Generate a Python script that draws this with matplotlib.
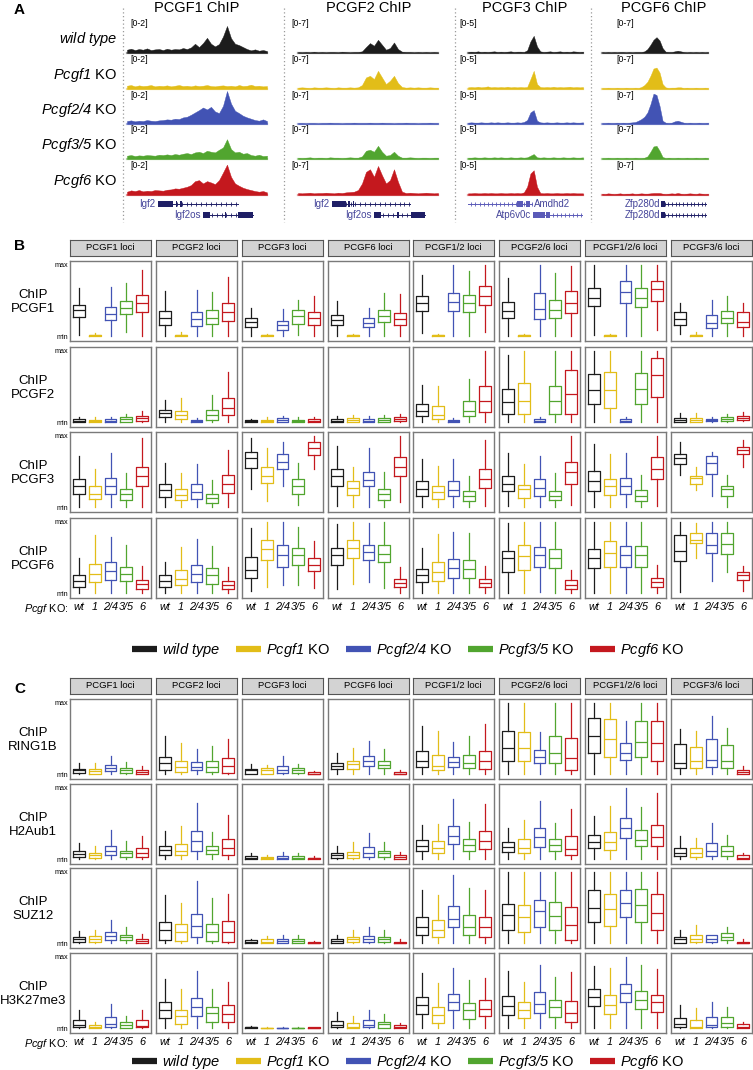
import numpy as np
import matplotlib
matplotlib.use('Agg')
import matplotlib.pyplot as plt
from matplotlib.lines import Line2D

plt.rcParams['font.family'] = ['Liberation Sans', 'DejaVu Sans']
# italic gene names: everything inside $\mathrm{...}$ is drawn with the italic face
plt.rcParams['mathtext.fontset'] = 'custom'
plt.rcParams['mathtext.rm'] = 'Liberation Sans:italic'
plt.rcParams['mathtext.it'] = 'Liberation Sans:italic'

W, H = 753, 1070

# genotypes
GENO_LABELS = [r'$\mathrm{wild\ type}$', r'$\mathrm{Pcgf1}$ KO', r'$\mathrm{Pcgf2/4}$ KO',
               r'$\mathrm{Pcgf3/5}$ KO', r'$\mathrm{Pcgf6}$ KO']
GENO_TICKS = ['wt', '1', '2/4', '3/5', '6']
COLORS = ['#1c1c1c', '#e2bd18', '#4253b4', '#51a52f', '#c4181e']

# ---------------- panel A : ChIP-seq tracks (signal, 0-1 of track scale) ----------------
TRACK_TITLES = ['PCGF1 ChIP', 'PCGF2 ChIP', 'PCGF3 ChIP', 'PCGF6 ChIP']
TRACK_RANGES = ['[0-2]', '[0-7]', '[0-5]', '[0-7]']

PCGF1_TRACKS = [
    [0.10, 0.13, 0.09, 0.12, 0.10, 0.14, 0.09, 0.11, 0.12, 0.09, 0.13, 0.10, 0.12, 0.11, 0.15, 0.12, 0.17, 0.28,
     0.18, 0.30, 0.46, 0.28, 0.20, 0.27, 0.50, 0.82, 0.45, 0.28, 0.24, 0.18, 0.12, 0.08, 0.11, 0.07, 0.09, 0.06],
    [0.10, 0.12, 0.08, 0.11, 0.09, 0.10, 0.12, 0.08, 0.10, 0.09, 0.11, 0.08, 0.10, 0.12, 0.09, 0.10, 0.08, 0.11,
     0.09, 0.10, 0.12, 0.09, 0.08, 0.10, 0.11, 0.09, 0.10, 0.08, 0.12, 0.09, 0.10, 0.13, 0.09, 0.10, 0.08, 0.09],
    [0.09, 0.11, 0.08, 0.10, 0.09, 0.12, 0.10, 0.09, 0.11, 0.12, 0.14, 0.13, 0.16, 0.15, 0.20, 0.22, 0.28, 0.35,
     0.42, 0.50, 0.44, 0.52, 0.38, 0.33, 0.55, 1.00, 0.62, 0.40, 0.33, 0.25, 0.20, 0.16, 0.12, 0.10, 0.14, 0.09],
    [0.10, 0.12, 0.09, 0.11, 0.10, 0.12, 0.11, 0.10, 0.13, 0.12, 0.14, 0.12, 0.15, 0.13, 0.16, 0.18, 0.15, 0.20,
     0.22, 0.18, 0.25, 0.22, 0.20, 0.28, 0.35, 0.60, 0.30, 0.20, 0.22, 0.16, 0.18, 0.12, 0.10, 0.13, 0.09, 0.10],
    [0.10, 0.14, 0.12, 0.15, 0.11, 0.13, 0.12, 0.15, 0.14, 0.13, 0.16, 0.17, 0.20, 0.19, 0.22, 0.25, 0.30, 0.42,
     0.45, 0.35, 0.42, 0.38, 0.33, 0.45, 0.68, 0.92, 0.55, 0.35, 0.28, 0.22, 0.18, 0.15, 0.12, 0.10, 0.12, 0.08],
]
PCGF2_TRACKS = [
    [0.03, 0.02, 0.03, 0.02, 0.04, 0.02, 0.03, 0.02, 0.03, 0.03, 0.02, 0.04, 0.03, 0.02, 0.03, 0.03, 0.05, 0.18,
     0.30, 0.22, 0.40, 0.25, 0.10, 0.15, 0.32, 0.12, 0.04, 0.03, 0.03, 0.02, 0.03, 0.02, 0.03, 0.02, 0.03, 0.02],
    [0.04, 0.05, 0.04, 0.03, 0.05, 0.04, 0.04, 0.05, 0.04, 0.03, 0.05, 0.04, 0.04, 0.05, 0.04, 0.05, 0.12, 0.35,
     0.40, 0.30, 0.55, 0.35, 0.15, 0.25, 0.40, 0.18, 0.06, 0.04, 0.05, 0.04, 0.05, 0.04, 0.04, 0.05, 0.04, 0.04],
    [0.03, 0.03, 0.02, 0.03, 0.03, 0.02, 0.03, 0.03, 0.04, 0.03, 0.03, 0.02, 0.03, 0.03, 0.04, 0.03, 0.03, 0.03,
     0.04, 0.03, 0.03, 0.04, 0.03, 0.03, 0.02, 0.03, 0.03, 0.04, 0.03, 0.03, 0.02, 0.03, 0.03, 0.04, 0.03, 0.03],
    [0.04, 0.03, 0.04, 0.05, 0.03, 0.04, 0.04, 0.03, 0.05, 0.04, 0.04, 0.03, 0.04, 0.05, 0.04, 0.04, 0.08, 0.25,
     0.28, 0.22, 0.40, 0.22, 0.10, 0.12, 0.22, 0.10, 0.04, 0.04, 0.05, 0.04, 0.03, 0.04, 0.04, 0.03, 0.04, 0.04],
    [0.06, 0.05, 0.06, 0.07, 0.05, 0.06, 0.06, 0.07, 0.06, 0.05, 0.07, 0.06, 0.08, 0.09, 0.10, 0.15, 0.35, 0.70,
     0.78, 0.55, 0.88, 0.60, 0.35, 0.45, 0.78, 0.40, 0.10, 0.06, 0.07, 0.06, 0.05, 0.06, 0.07, 0.06, 0.05, 0.06],
]
PCGF3_TRACKS = [
    [0.03, 0.04, 0.03, 0.05, 0.03, 0.04, 0.03, 0.04, 0.05, 0.03, 0.04, 0.03, 0.04, 0.05, 0.03, 0.04, 0.04, 0.03,
     0.08, 0.35, 0.52, 0.20, 0.05, 0.03, 0.04, 0.05, 0.03, 0.04, 0.05, 0.03, 0.04, 0.03, 0.05, 0.04, 0.03, 0.04],
    [0.05, 0.06, 0.05, 0.07, 0.05, 0.06, 0.08, 0.05, 0.06, 0.05, 0.06, 0.05, 0.07, 0.05, 0.06, 0.05, 0.06, 0.05,
     0.06, 0.30, 0.55, 0.15, 0.06, 0.05, 0.06, 0.05, 0.07, 0.05, 0.06, 0.05, 0.06, 0.07, 0.05, 0.06, 0.05, 0.06],
    [0.04, 0.05, 0.04, 0.04, 0.05, 0.04, 0.04, 0.05, 0.04, 0.05, 0.04, 0.04, 0.05, 0.04, 0.04, 0.05, 0.04, 0.06,
     0.12, 0.35, 0.42, 0.10, 0.05, 0.04, 0.05, 0.04, 0.04, 0.05, 0.04, 0.04, 0.05, 0.04, 0.05, 0.04, 0.04, 0.05],
    [0.04, 0.04, 0.05, 0.04, 0.04, 0.05, 0.04, 0.04, 0.05, 0.04, 0.05, 0.04, 0.04, 0.05, 0.04, 0.04, 0.05, 0.04,
     0.05, 0.10, 0.15, 0.05, 0.04, 0.05, 0.04, 0.04, 0.05, 0.04, 0.04, 0.05, 0.04, 0.04, 0.05, 0.04, 0.04, 0.05],
    [0.05, 0.05, 0.06, 0.05, 0.05, 0.06, 0.05, 0.06, 0.05, 0.05, 0.06, 0.05, 0.05, 0.06, 0.05, 0.06, 0.05, 0.08,
     0.25, 0.65, 0.75, 0.25, 0.06, 0.05, 0.06, 0.05, 0.05, 0.06, 0.05, 0.05, 0.06, 0.05, 0.06, 0.05, 0.05, 0.05],
]
PCGF6_TRACKS = [
    [0.03, 0.02, 0.03, 0.02, 0.03, 0.02, 0.03, 0.03, 0.02, 0.03, 0.02, 0.03, 0.03, 0.03, 0.05, 0.12, 0.25, 0.40,
     0.48, 0.38, 0.15, 0.04, 0.03, 0.03, 0.05, 0.07, 0.05, 0.03, 0.02, 0.03, 0.02, 0.03, 0.02, 0.03, 0.02, 0.03],
    [0.03, 0.03, 0.04, 0.03, 0.03, 0.04, 0.03, 0.03, 0.04, 0.03, 0.03, 0.04, 0.03, 0.06, 0.12, 0.22, 0.40, 0.62,
     0.65, 0.50, 0.15, 0.05, 0.03, 0.04, 0.04, 0.05, 0.05, 0.03, 0.04, 0.03, 0.03, 0.04, 0.03, 0.03, 0.04, 0.03],
    [0.03, 0.03, 0.04, 0.03, 0.03, 0.04, 0.03, 0.04, 0.03, 0.04, 0.05, 0.06, 0.10, 0.15, 0.22, 0.35, 0.60, 0.92,
     0.88, 0.55, 0.10, 0.04, 0.03, 0.04, 0.08, 0.10, 0.07, 0.04, 0.03, 0.04, 0.03, 0.03, 0.04, 0.03, 0.03, 0.04],
    [0.03, 0.03, 0.04, 0.03, 0.03, 0.04, 0.03, 0.03, 0.04, 0.03, 0.03, 0.04, 0.03, 0.03, 0.04, 0.08, 0.22, 0.38,
     0.40, 0.25, 0.06, 0.03, 0.04, 0.03, 0.03, 0.04, 0.03, 0.03, 0.04, 0.03, 0.03, 0.04, 0.03, 0.03, 0.04, 0.03],
    [0.04, 0.03, 0.05, 0.04, 0.03, 0.04, 0.05, 0.03, 0.04, 0.04, 0.05, 0.03, 0.04, 0.05, 0.04, 0.04, 0.05, 0.06,
     0.06, 0.06, 0.04, 0.03, 0.04, 0.05, 0.04, 0.06, 0.04, 0.03, 0.04, 0.05, 0.04, 0.03, 0.05, 0.04, 0.03, 0.04],
]
ALL_TRACKS = [PCGF1_TRACKS, PCGF2_TRACKS, PCGF3_TRACKS, PCGF6_TRACKS]

# gene models per column: (name, label side, start, end, exons, row)
GENES = [
    [('Igf2', 'left', 0.22, 0.79, [(0.22, 0.33), (0.35, 0.36), (0.38, 0.39)], 0),
     ('Igf2os', 'left', 0.54, 0.90, [(0.54, 0.59), (0.70, 0.71), (0.79, 0.90)], 1)],
    [('Igf2', 'left', 0.24, 0.80, [(0.24, 0.34), (0.36, 0.37), (0.39, 0.40)], 0),
     ('Igf2os', 'left', 0.54, 0.91, [(0.54, 0.59), (0.71, 0.72), (0.81, 0.91)], 1)],
    [('Amdhd2', 'right', 0.00, 0.56, [(0.43, 0.48), (0.50, 0.54)], 0),
     ('Atp6v0c', 'left', 0.565, 0.99, [(0.565, 0.67), (0.68, 0.71)], 1)],
    [('Zfp280d', 'left', 0.56, 0.98, [(0.56, 0.59)], 0),
     ('Zfp280d', 'left', 0.56, 0.98, [(0.56, 0.59)], 1)],
]
GENE_COLORS = ['#1f1f66', '#1f1f66', '#5b5bb8', '#1f1f66']

# ---------------- panels B and C : box stats (whislo, q1, med, q3, whishi), scaled min..max ----------------
LOCI = ['PCGF1 loci', 'PCGF2 loci', 'PCGF3 loci', 'PCGF6 loci',
        'PCGF1/2 loci', 'PCGF2/6 loci', 'PCGF1/2/6 loci', 'PCGF3/6 loci']

CHIP_PCGF1 = [
    [(0.02, 0.27, 0.36, 0.44, 0.68), (0, 0, 0.01, 0.02, 0.04), (0, 0.23, 0.31, 0.41, 0.69), (0.05, 0.31, 0.40, 0.50, 0.75), (0, 0.34, 0.46, 0.58, 0.93)],
    [(0, 0.16, 0.25, 0.35, 0.63), (0, 0, 0.01, 0.02, 0.06), (0, 0.14, 0.24, 0.34, 0.65), (0, 0.17, 0.26, 0.36, 0.62), (0, 0.21, 0.34, 0.46, 0.83)],
    [(0, 0.13, 0.20, 0.25, 0.40), (0, 0, 0.01, 0.02, 0.03), (0, 0.08, 0.15, 0.21, 0.38), (0.02, 0.17, 0.28, 0.36, 0.51), (0, 0.16, 0.26, 0.34, 0.56)],
    [(0, 0.16, 0.23, 0.30, 0.50), (0, 0, 0.01, 0.02, 0.03), (0, 0.13, 0.19, 0.25, 0.40), (0, 0.20, 0.28, 0.36, 0.60), (0, 0.15, 0.24, 0.33, 0.59)],
    [(0.04, 0.35, 0.46, 0.56, 0.86), (0, 0, 0.01, 0.02, 0.03), (0, 0.35, 0.48, 0.61, 1.0), (0, 0.34, 0.47, 0.58, 0.91), (0.06, 0.43, 0.57, 0.70, 1.0)],
    [(0, 0.25, 0.35, 0.48, 0.82), (0, 0, 0.01, 0.02, 0.03), (0, 0.24, 0.38, 0.60, 1.0), (0, 0.25, 0.37, 0.51, 0.89), (0, 0.33, 0.47, 0.63, 0.99)],
    [(0.02, 0.42, 0.54, 0.68, 1.0), (0, 0, 0.01, 0.02, 0.03), (0, 0.46, 0.62, 0.77, 1.0), (0, 0.41, 0.54, 0.67, 1.0), (0.08, 0.50, 0.66, 0.78, 1.0)],
    [(0.03, 0.16, 0.24, 0.34, 0.47), (0, 0, 0.01, 0.02, 0.05), (0, 0.11, 0.19, 0.30, 0.51), (0, 0.18, 0.26, 0.35, 0.57), (0, 0.13, 0.20, 0.34, 0.47)],
]
CHIP_PCGF2 = [
    [(0, 0, 0.015, 0.04, 0.07), (0, 0, 0.015, 0.035, 0.07), (0, 0, 0.02, 0.04, 0.075), (0, 0.005, 0.04, 0.07, 0.12), (0, 0.015, 0.05, 0.08, 0.16)],
    [(0, 0.07, 0.13, 0.17, 0.31), (0, 0.04, 0.10, 0.16, 0.34), (0, 0, 0.01, 0.03, 0.06), (0, 0.03, 0.10, 0.17, 0.38), (0, 0.10, 0.20, 0.34, 0.70)],
    [(0, 0, 0.015, 0.025, 0.04), (0, 0, 0.02, 0.035, 0.07), (0, 0.005, 0.03, 0.05, 0.09), (0, 0, 0.02, 0.03, 0.065), (0, 0, 0.02, 0.04, 0.07)],
    [(0, 0, 0.02, 0.04, 0.085), (0, 0, 0.03, 0.05, 0.10), (0, 0, 0.02, 0.04, 0.085), (0, 0.005, 0.03, 0.05, 0.105), (0, 0.01, 0.04, 0.07, 0.12)],
    [(0, 0.09, 0.15, 0.26, 0.52), (0, 0.04, 0.10, 0.23, 0.51), (0, 0, 0.01, 0.035, 0.06), (0, 0.08, 0.16, 0.29, 0.61), (0, 0.14, 0.29, 0.51, 1.0)],
    [(0, 0.12, 0.28, 0.46, 0.95), (0, 0.12, 0.29, 0.55, 1.0), (0, 0, 0.015, 0.04, 0.075), (0, 0.12, 0.29, 0.51, 1.0), (0, 0.12, 0.39, 0.73, 1.0)],
    [(0, 0.25, 0.45, 0.68, 1.0), (0, 0.20, 0.45, 0.71, 1.0), (0, 0, 0.015, 0.04, 0.075), (0, 0.25, 0.47, 0.69, 1.0), (0, 0.35, 0.66, 0.90, 1.0)],
    [(0, 0, 0.03, 0.06, 0.13), (0, 0, 0.03, 0.06, 0.13), (0.005, 0.02, 0.03, 0.045, 0.07), (0, 0.01, 0.04, 0.07, 0.12), (0.01, 0.03, 0.06, 0.09, 0.14)],
]
CHIP_PCGF3 = [
    [(0, 0.18, 0.29, 0.40, 0.72), (0, 0.11, 0.19, 0.29, 0.54), (0, 0.18, 0.29, 0.41, 0.76), (0, 0.10, 0.18, 0.25, 0.48), (0, 0.29, 0.43, 0.57, 0.97)],
    [(0, 0.14, 0.24, 0.33, 0.62), (0, 0.10, 0.17, 0.25, 0.48), (0, 0.12, 0.21, 0.32, 0.61), (0, 0.06, 0.13, 0.19, 0.38), (0, 0.20, 0.32, 0.45, 0.80)],
    [(0.25, 0.55, 0.69, 0.77, 0.97), (0.09, 0.34, 0.44, 0.56, 0.83), (0.29, 0.54, 0.64, 0.75, 0.91), (0.03, 0.18, 0.29, 0.40, 0.62), (0.54, 0.73, 0.83, 0.92, 1.0)],
    [(0.01, 0.30, 0.43, 0.54, 0.86), (0, 0.17, 0.27, 0.36, 0.56), (0, 0.29, 0.38, 0.50, 0.83), (0, 0.10, 0.18, 0.26, 0.49), (0.07, 0.44, 0.57, 0.70, 1.0)],
    [(0, 0.16, 0.26, 0.37, 0.68), (0, 0.12, 0.21, 0.30, 0.58), (0, 0.15, 0.24, 0.36, 0.68), (0, 0.09, 0.15, 0.22, 0.43), (0.01, 0.27, 0.40, 0.54, 0.94)],
    [(0.01, 0.22, 0.33, 0.44, 0.76), (0, 0.13, 0.25, 0.31, 0.61), (0, 0.15, 0.27, 0.39, 0.72), (0, 0.10, 0.15, 0.22, 0.48), (0.03, 0.33, 0.49, 0.63, 1.0)],
    [(0, 0.23, 0.37, 0.51, 0.89), (0, 0.17, 0.29, 0.40, 0.75), (0, 0.18, 0.30, 0.41, 0.76), (0, 0.09, 0.16, 0.24, 0.45), (0.01, 0.39, 0.54, 0.70, 1.0)],
    [(0.45, 0.61, 0.69, 0.75, 0.91), (0.24, 0.32, 0.41, 0.44, 0.57), (0.15, 0.46, 0.62, 0.72, 0.78), (0, 0.16, 0.26, 0.30, 0.45), (0.57, 0.75, 0.80, 0.85, 0.95)],
]
CHIP_PCGF6 = [
    [(0, 0.09, 0.17, 0.25, 0.50), (0, 0.15, 0.27, 0.41, 0.81), (0, 0.19, 0.31, 0.44, 0.79), (0, 0.17, 0.27, 0.37, 0.67), (0, 0.06, 0.13, 0.19, 0.38)],
    [(0, 0.09, 0.17, 0.26, 0.43), (0, 0.11, 0.20, 0.32, 0.65), (0, 0.15, 0.27, 0.39, 0.76), (0, 0.13, 0.25, 0.35, 0.66), (0, 0.05, 0.12, 0.17, 0.37)],
    [(0.03, 0.21, 0.33, 0.51, 0.92), (0.08, 0.47, 0.62, 0.74, 1.0), (0.12, 0.37, 0.53, 0.67, 1.0), (0.11, 0.40, 0.53, 0.63, 0.93), (0.07, 0.31, 0.40, 0.49, 0.73)],
    [(0.06, 0.40, 0.53, 0.64, 0.97), (0.13, 0.50, 0.64, 0.75, 1.0), (0.16, 0.46, 0.58, 0.68, 0.98), (0.07, 0.43, 0.55, 0.68, 1.0), (0, 0.08, 0.14, 0.20, 0.36)],
    [(0, 0.15, 0.25, 0.34, 0.63), (0, 0.17, 0.29, 0.44, 0.83), (0, 0.21, 0.35, 0.48, 0.86), (0, 0.21, 0.34, 0.47, 0.85), (0, 0.08, 0.14, 0.20, 0.38)],
    [(0, 0.30, 0.49, 0.59, 0.99), (0, 0.32, 0.52, 0.68, 1.0), (0.01, 0.37, 0.54, 0.65, 1.0), (0, 0.35, 0.50, 0.62, 1.0), (0, 0.06, 0.12, 0.18, 0.33)],
    [(0, 0.35, 0.49, 0.62, 1.0), (0, 0.37, 0.56, 0.73, 1.0), (0, 0.37, 0.53, 0.66, 1.0), (0, 0.37, 0.54, 0.66, 1.0), (0, 0.09, 0.15, 0.21, 0.40)],
    [(0.01, 0.45, 0.59, 0.81, 1.0), (0.50, 0.70, 0.75, 0.85, 0.98), (0.17, 0.56, 0.68, 0.85, 1.0), (0.29, 0.55, 0.69, 0.84, 1.0), (0.03, 0.19, 0.25, 0.30, 0.38)],
]
CHIP_RING1B = [
    [(0, 0.02, 0.05, 0.07, 0.16), (0, 0, 0.04, 0.07, 0.16), (0, 0.04, 0.09, 0.13, 0.26), (0, 0.02, 0.06, 0.09, 0.17), (0, 0, 0.03, 0.05, 0.11)],
    [(0, 0.05, 0.15, 0.24, 0.53), (0, 0.03, 0.10, 0.19, 0.43), (0, 0.05, 0.10, 0.17, 0.35), (0, 0.03, 0.10, 0.18, 0.39), (0, 0.02, 0.11, 0.22, 0.49)],
    [(0, 0, 0.05, 0.07, 0.14), (0, 0, 0.05, 0.08, 0.13), (0, 0.02, 0.06, 0.11, 0.25), (0, 0.01, 0.05, 0.09, 0.14), (0, 0, 0.005, 0.03, 0.04)],
    [(0, 0.07, 0.11, 0.16, 0.29), (0, 0.07, 0.14, 0.19, 0.36), (0, 0.11, 0.18, 0.25, 0.47), (0, 0.09, 0.13, 0.19, 0.35), (0, 0, 0.005, 0.03, 0.06)],
    [(0, 0.10, 0.19, 0.33, 0.67), (0, 0.05, 0.12, 0.27, 0.60), (0, 0.10, 0.17, 0.24, 0.45), (0, 0.08, 0.15, 0.27, 0.54), (0, 0.07, 0.18, 0.33, 0.70)],
    [(0, 0.19, 0.36, 0.60, 1.0), (0, 0.18, 0.36, 0.59, 1.0), (0, 0.16, 0.24, 0.34, 0.59), (0, 0.16, 0.29, 0.54, 1.0), (0, 0.05, 0.23, 0.51, 1.0)],
    [(0, 0.30, 0.54, 0.79, 1.0), (0, 0.24, 0.50, 0.78, 1.0), (0, 0.20, 0.30, 0.43, 0.75), (0, 0.24, 0.45, 0.74, 1.0), (0, 0.18, 0.44, 0.75, 1.0)],
    [(0, 0.08, 0.16, 0.42, 0.64), (0, 0.09, 0.19, 0.38, 0.61), (0, 0.10, 0.20, 0.49, 0.81), (0, 0.09, 0.18, 0.41, 0.65), (0, 0, 0.03, 0.06, 0.11)],
]
CHIP_H2AUB1 = [
    [(0, 0.03, 0.07, 0.11, 0.23), (0, 0.01, 0.05, 0.09, 0.19), (0, 0.05, 0.11, 0.19, 0.41), (0, 0.03, 0.08, 0.12, 0.25), (0, 0.03, 0.09, 0.15, 0.33)],
    [(0, 0.06, 0.13, 0.19, 0.40), (0, 0.06, 0.11, 0.21, 0.46), (0, 0.11, 0.25, 0.39, 0.79), (0, 0.07, 0.13, 0.19, 0.38), (0, 0.05, 0.15, 0.28, 0.62)],
    [(0, 0, 0.02, 0.04, 0.08), (0, 0, 0.02, 0.03, 0.06), (0, 0, 0.02, 0.04, 0.10), (0, 0, 0.02, 0.04, 0.08), (0, 0, 0.01, 0.02, 0.04)],
    [(0, 0.02, 0.06, 0.09, 0.19), (0, 0.02, 0.06, 0.10, 0.24), (0, 0.03, 0.09, 0.17, 0.36), (0, 0.03, 0.08, 0.12, 0.24), (0, 0, 0.03, 0.05, 0.10)],
    [(0, 0.12, 0.19, 0.27, 0.48), (0, 0.08, 0.16, 0.25, 0.50), (0, 0.21, 0.33, 0.46, 0.85), (0, 0.12, 0.20, 0.28, 0.52), (0, 0.14, 0.26, 0.40, 0.77)],
    [(0, 0.10, 0.17, 0.24, 0.43), (0, 0.09, 0.16, 0.28, 0.55), (0, 0.17, 0.31, 0.44, 0.81), (0, 0.12, 0.20, 0.28, 0.51), (0, 0.05, 0.14, 0.32, 0.70)],
    [(0, 0.16, 0.24, 0.34, 0.60), (0, 0.13, 0.24, 0.38, 0.74), (0, 0.30, 0.43, 0.58, 1.0), (0, 0.19, 0.27, 0.41, 0.73), (0, 0.18, 0.31, 0.48, 0.93)],
    [(0, 0.04, 0.09, 0.15, 0.32), (0, 0.03, 0.09, 0.15, 0.30), (0, 0.04, 0.11, 0.22, 0.51), (0, 0.04, 0.12, 0.18, 0.34), (0, 0, 0.02, 0.06, 0.09)],
]
CHIP_SUZ12 = [
    [(0, 0.01, 0.05, 0.08, 0.17), (0, 0.02, 0.06, 0.10, 0.19), (0, 0.04, 0.10, 0.16, 0.33), (0, 0.04, 0.08, 0.12, 0.23), (0, 0, 0.03, 0.06, 0.13)],
    [(0, 0.04, 0.19, 0.30, 0.67), (0, 0.03, 0.16, 0.27, 0.56), (0, 0.08, 0.24, 0.41, 0.88), (0, 0.03, 0.16, 0.27, 0.63), (0, 0.02, 0.15, 0.31, 0.69)],
    [(0, 0, 0.015, 0.04, 0.06), (0, 0, 0.02, 0.05, 0.10), (0, 0, 0.03, 0.05, 0.12), (0, 0, 0.03, 0.05, 0.11), (0, 0, 0.005, 0.01, 0.03)],
    [(0, 0, 0.03, 0.06, 0.12), (0, 0.01, 0.06, 0.09, 0.19), (0, 0.01, 0.06, 0.10, 0.23), (0, 0.02, 0.06, 0.09, 0.18), (0, 0, 0.005, 0.02, 0.06)],
    [(0, 0.12, 0.23, 0.37, 0.75), (0, 0.09, 0.18, 0.32, 0.67), (0, 0.22, 0.34, 0.52, 0.96), (0, 0.12, 0.23, 0.39, 0.77), (0, 0.09, 0.22, 0.36, 0.75)],
    [(0, 0.18, 0.39, 0.55, 1.0), (0, 0.16, 0.37, 0.53, 1.0), (0, 0.23, 0.45, 0.60, 1.0), (0, 0.18, 0.38, 0.58, 1.0), (0, 0.04, 0.25, 0.51, 1.0)],
    [(0, 0.29, 0.50, 0.74, 1.0), (0, 0.24, 0.48, 0.69, 1.0), (0, 0.36, 0.56, 0.75, 1.0), (0, 0.30, 0.53, 0.76, 1.0), (0, 0.19, 0.42, 0.69, 1.0)],
    [(0, 0, 0.05, 0.09, 0.19), (0, 0.01, 0.06, 0.11, 0.25), (0, 0.01, 0.05, 0.11, 0.12), (0, 0.04, 0.09, 0.14, 0.22), (0, 0, 0.005, 0.02, 0.05)],
]
CHIP_H3K27ME3 = [
    [(0, 0.01, 0.04, 0.11, 0.26), (0, 0, 0.02, 0.04, 0.08), (0, 0.01, 0.06, 0.15, 0.34), (0, 0, 0.04, 0.08, 0.17), (0, 0.01, 0.03, 0.11, 0.26)],
    [(0, 0.14, 0.26, 0.36, 0.69), (0, 0.05, 0.17, 0.26, 0.55), (0, 0.17, 0.30, 0.42, 0.80), (0, 0.09, 0.21, 0.29, 0.55), (0, 0.09, 0.20, 0.32, 0.65)],
    [(0, 0, 0.01, 0.015, 0.025), (0, 0, 0, 0.005, 0.01), (0, 0, 0, 0.005, 0.01), (0, 0, 0, 0.005, 0.01), (0, 0, 0.005, 0.01, 0.015)],
    [(0, 0.01, 0.04, 0.10, 0.23), (0, 0, 0.02, 0.07, 0.17), (0, 0.01, 0.04, 0.12, 0.26), (0, 0, 0.05, 0.09, 0.20), (0, 0, 0.01, 0.04, 0.07)],
    [(0, 0.20, 0.32, 0.43, 0.77), (0, 0.07, 0.18, 0.29, 0.63), (0, 0.25, 0.36, 0.48, 0.84), (0, 0.13, 0.26, 0.35, 0.68), (0, 0.17, 0.27, 0.39, 0.71)],
    [(0, 0.19, 0.31, 0.45, 0.80), (0, 0.14, 0.26, 0.36, 0.65), (0, 0.21, 0.34, 0.51, 0.89), (0, 0.15, 0.29, 0.39, 0.72), (0, 0.08, 0.21, 0.38, 0.79)],
    [(0, 0.31, 0.43, 0.55, 0.87), (0, 0.20, 0.33, 0.46, 0.85), (0, 0.36, 0.49, 0.62, 1.0), (0, 0.27, 0.39, 0.52, 0.89), (0, 0.22, 0.36, 0.47, 0.83)],
    [(0, 0.01, 0.06, 0.14, 0.32), (0, 0, 0.02, 0.12, 0.28), (0, 0.01, 0.04, 0.16, 0.37), (0, 0.01, 0.07, 0.15, 0.29), (0, 0, 0.02, 0.05, 0.08)],
]

PANEL_B = [('ChIP\nPCGF1', CHIP_PCGF1), ('ChIP\nPCGF2', CHIP_PCGF2),
           ('ChIP\nPCGF3', CHIP_PCGF3), ('ChIP\nPCGF6', CHIP_PCGF6)]
PANEL_C = [('ChIP\nRING1B', CHIP_RING1B), ('ChIP\nH2Aub1', CHIP_H2AUB1),
           ('ChIP\nSUZ12', CHIP_SUZ12), ('ChIP\nH3K27me3', CHIP_H3K27ME3)]

# ---------------- layout (pixels) ----------------
COL_X = [70, 156, 242, 328, 413, 499, 585, 671]
COL_W = 81
ROWS_B = [261, 347, 432, 518]
ROWS_C = [699, 784, 868, 953]
ROW_H = 80

fig = plt.figure(figsize=(W / 100, H / 100), dpi=100)


def add_ax(x0, y0, x1, y1):
    return fig.add_axes([x0 / W, 1 - y1 / H, (x1 - x0) / W, (y1 - y0) / H])


def ftext(x, y, s, **kw):
    return fig.text(x / W, 1 - y / H, s, **kw)


# ---------- panel A ----------
ftext(14, 10, 'A', fontsize=11, fontweight='bold', va='center', ha='left')
TRACK_COLS = [(127, 267), (298, 438), (468, 583), (602, 708)]
TITLE_X = [197, 369, 525, 664]
RANGE_X = [130, 291, 459, 616]
BASELINES = [53, 89, 124, 159, 195]
for x in [123, 284, 455, 591]:
    fig.add_artist(Line2D([x / W, x / W], [1 - 8 / H, 1 - 222 / H], color='#9a9a9a', lw=0.9,
                          ls=(0, (1, 2))))

for c, (x0, x1) in enumerate(TRACK_COLS):
    ftext(TITLE_X[c], 8, TRACK_TITLES[c], fontsize=10.5, ha='center', va='center')
    for r, base in enumerate(BASELINES):
        vals = ALL_TRACKS[c][r]
        ax = add_ax(x0, base - 33, x1, base)
        xs = np.linspace(0, 1, len(vals))
        ax.fill_between(xs, 0, vals, color=COLORS[r], lw=0.3)
        ax.axhline(0, color=COLORS[r], alpha=0.45, lw=1.6, clip_on=False)
        ax.set_xlim(0, 1)
        ax.set_ylim(0, 1)
        ax.axis('off')
        ftext(RANGE_X[c], base - 29, TRACK_RANGES[c], fontsize=6.3, ha='left', va='center')

    # gene models
    gax = add_ax(x0, 198, x1, 221)
    gax.set_xlim(0, 1)
    gax.set_ylim(1.6, -0.6)
    gax.axis('off')
    gcol = GENE_COLORS[c]
    for name, side, g0, g1, exons, row in GENES[c]:
        gax.plot([g0, g1], [row, row], color=gcol, lw=0.7)
        ticks = np.arange(g0 + 0.03, g1, 0.035)
        gax.plot(ticks, [row] * len(ticks), ls='none', marker='|', ms=2.5, mew=0.6, color=gcol)
        for e0, e1 in exons:
            gax.fill_between([e0, e1], row - 0.27, row + 0.27, color=gcol, lw=0)
        if side == 'left':
            gax.text(g0 - 0.015, row, name, ha='right', va='center', fontsize=7, color='#45459a')
        else:
            gax.text(g1 + 0.015, row, name, ha='left', va='center', fontsize=7, color='#45459a')

ROWLAB_Y = [39, 75, 110, 145, 181]
for r, lab in enumerate(GENO_LABELS):
    ftext(117, ROWLAB_Y[r], lab, fontsize=10.5, ha='right', va='center')


# ---------- panels B and C ----------
def draw_boxgrid(row_tops, panel_rows, strip_y, letter_y, letter, legend_y):
    ftext(14, letter_y, letter, fontsize=11, fontweight='bold', va='center', ha='left')
    for c in range(8):
        sax = add_ax(COL_X[c], strip_y, COL_X[c] + COL_W, strip_y + 16)
        sax.set_facecolor('#d3d3d3')
        sax.set_xticks([])
        sax.set_yticks([])
        for sp in sax.spines.values():
            sp.set_color('#555555')
            sp.set_linewidth(0.8)
        sax.text(0.5, 0.5, LOCI[c], ha='center', va='center', fontsize=6.8,
                 family=['Liberation Sans Narrow', 'Liberation Sans'], transform=sax.transAxes)

    for r, (top, (label, rows)) in enumerate(zip(row_tops, panel_rows)):
        ftext(33, top + 41, label, fontsize=9.5, ha='center', va='center', linespacing=1.25)
        for c in range(8):
            ax = add_ax(COL_X[c], top, COL_X[c] + COL_W, top + ROW_H)
            stats = [dict(whislo=v[0], q1=v[1], med=v[2], q3=v[3], whishi=v[4]) for v in rows[c]]
            bp = ax.bxp(stats, positions=[1, 2, 3, 4, 5], widths=0.74, showfliers=False,
                        showcaps=False, manage_ticks=False,
                        boxprops=dict(lw=0.9), whiskerprops=dict(lw=0.9), medianprops=dict(lw=0.9))
            for i, col in enumerate(COLORS):
                bp['boxes'][i].set_color(col)
                bp['medians'][i].set_color(col)
                bp['whiskers'][2 * i].set_color(col)
                bp['whiskers'][2 * i + 1].set_color(col)
            ax.set_xlim(0.43, 5.57)
            ax.set_ylim(-0.07, 1.056)
            for sp in ax.spines.values():
                sp.set_color('#7a7a7a')
                sp.set_linewidth(1.0)
            ax.tick_params(length=0, pad=1)
            if c == 0:
                ax.set_yticks([0, 1])
                ax.set_yticklabels(['min', 'max'], fontsize=5.2)
            else:
                ax.set_yticks([])
            if r == 3:
                ax.set_xticks([1, 2, 3, 4, 5])
                ax.set_xticklabels(GENO_TICKS, fontsize=7.8, style='italic')
                ax.tick_params(axis='x', pad=3)
            else:
                ax.set_xticks([])
    ftext(68, row_tops[3] + ROW_H + 11, r'$\mathrm{Pcgf}$ KO:', fontsize=7.8, ha='right', va='center')

    handles = [Line2D([], [], color=col, lw=4.5, solid_capstyle='butt') for col in COLORS]
    fig.legend(handles, GENO_LABELS, loc='center', bbox_to_anchor=(408 / W, 1 - legend_y / H),
               ncol=5, frameon=False, fontsize=10.5, handlelength=1.7, handletextpad=0.35,
               columnspacing=1.1, borderpad=0)


draw_boxgrid(ROWS_B, PANEL_B, 240, 246, 'B', 650)
draw_boxgrid(ROWS_C, PANEL_C, 678, 689, 'C', 1062)

fig.savefig('out.png', dpi=100)
